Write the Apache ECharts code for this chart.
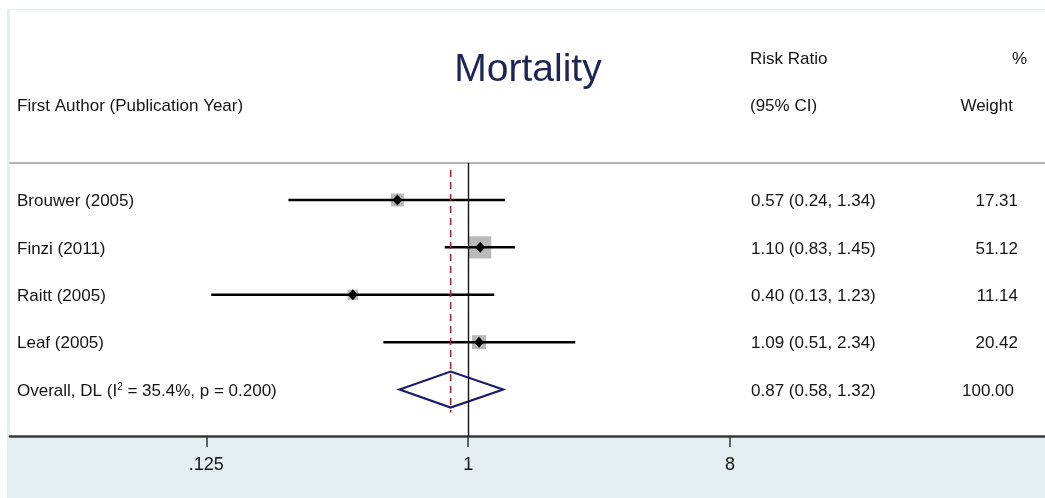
<!DOCTYPE html>
<html>
<head>
<meta charset="utf-8">
<style>
  html, body { margin: 0; padding: 0; background: #ffffff; }
  #chart { width: 1045px; height: 498px; }
</style>
<script src="https://cdn.jsdelivr.net/npm/echarts@6/dist/echarts.min.js"></script>
</head>
<body>
<div id="chart"></div>
<script>
// Study-level results (risk ratios with 95% CI) and random-effects weights
const studies = ['Brouwer (2005)', 'Finzi (2011)', 'Raitt (2005)', 'Leaf (2005)'];
const riskRatio = [0.57, 1.10, 0.40, 1.09];
const ciLower = [0.24, 0.83, 0.13, 0.51];
const ciUpper = [1.34, 1.45, 1.23, 2.34];
const weightPct = [17.31, 51.12, 11.14, 20.42];

// Pooled DerSimonian-Laird estimate: [RR, lower, upper]
const pooled = [0.87, 0.58, 1.32];
const pooledWeight = 100.00;
const heterogeneity = { i2: 35.4, p: 0.200 };

// Axis ticks
const tickValues = [0.125, 1, 8];
const tickLabels = ['.125', '1', '8'];

const FONT = '"Liberation Sans", Arial, sans-serif';
const TEXT = '#141414';

const fmt2 = v => v.toFixed(2);
const ciText = (r, l, u) => fmt2(r) + ' (' + fmt2(l) + ', ' + fmt2(u) + ')';

const studyData = studies.map((s, i) => [riskRatio[i], i, ciLower[i], ciUpper[i], weightPct[i]]);
const pooledRow = studies.length;

const chart = echarts.init(document.getElementById('chart'), null, { renderer: 'canvas' });

function textEl(x, y, text, align, size, color, extra) {
  return {
    type: 'text',
    style: Object.assign({
      x: x, y: y, text: text, fill: color || TEXT,
      font: (size || 17) + 'px ' + FONT,
      textAlign: align || 'left', textVerticalAlign: 'middle'
    }, extra || {})
  };
}

const option = {
  backgroundColor: '#ffffff',
  animation: false,
  graphic: [
    { type: 'rect', z: -100, shape: { x: 7, y: 9, width: 1038, height: 489 }, style: { fill: '#e4edf1' } },
    { type: 'rect', z: -99, shape: { x: 10, y: 10, width: 1035, height: 426 }, style: { fill: '#ffffff' } },
    { type: 'text', z: 10, style: { x: 528, y: 70, text: 'Mortality', fill: '#1c2556', font: '39px ' + FONT, textAlign: 'center', textVerticalAlign: 'middle' } },
    { type: 'text', z: 10, style: { x: 17, y: 106, text: 'First Author (Publication Year)', fill: TEXT, font: '17px ' + FONT, textAlign: 'left', textVerticalAlign: 'middle' } },
    { type: 'text', z: 10, style: { x: 750, y: 59, text: 'Risk Ratio', fill: TEXT, font: '17px ' + FONT, textAlign: 'left', textVerticalAlign: 'middle' } },
    { type: 'text', z: 10, style: { x: 750, y: 106, text: '(95% CI)', fill: TEXT, font: '17px ' + FONT, textAlign: 'left', textVerticalAlign: 'middle' } },
    { type: 'text', z: 10, style: { x: 1027, y: 59, text: '%', fill: TEXT, font: '17px ' + FONT, textAlign: 'right', textVerticalAlign: 'middle' } },
    { type: 'text', z: 10, style: { x: 1013, y: 106, text: 'Weight', fill: TEXT, font: '17px ' + FONT, textAlign: 'right', textVerticalAlign: 'middle' } }
  ],
  grid: { left: 10, right: 0, top: 163, bottom: 62, containLabel: false },
  xAxis: [
    {
      type: 'log', logBase: 2, min: 0.02631, max: 97.48,
      position: 'bottom',
      axisLine: { show: true, onZero: false, lineStyle: { color: '#3a3a3a', width: 2.5 } },
      axisTick: { show: true, length: 11, customValues: tickValues, lineStyle: { color: '#333', width: 1.5 } },
      axisLabel: {
        show: true, customValues: tickValues, margin: 20,
        fontFamily: FONT, fontSize: 18, color: TEXT,
        formatter: v => { const k = tickValues.findIndex(t => Math.abs(t - v) < 1e-9); return k >= 0 ? tickLabels[k] : ''; }
      },
      splitLine: { show: false }, minorTick: { show: false }, minorSplitLine: { show: false }
    },
    {
      type: 'log', logBase: 2, min: 0.02631, max: 97.48,
      position: 'top',
      axisLine: { show: true, onZero: false, lineStyle: { color: '#b4b4b4', width: 2 } },
      axisTick: { show: false }, axisLabel: { show: false }, splitLine: { show: false }
    }
  ],
  yAxis: {
    type: 'value', inverse: true, min: -0.78, max: 4.98,
    show: false, splitLine: { show: false }
  },
  series: [
    {
      // one row per study: weight box, CI whisker, point estimate and the row's text columns
      type: 'custom', name: 'studies', z: 3,
      data: studyData,
      encode: { x: [0, 2, 3], y: 1 },
      renderItem: function (params, api) {
        const i = api.value(1);
        const c = api.coord([api.value(0), i]);
        const l = api.coord([api.value(2), i]);
        const u = api.coord([api.value(3), i]);
        const w = api.value(4);
        const side = Math.sqrt(w) * 3.1;
        const hw = 5, hh = 5.5;
        return {
          type: 'group',
          children: [
            { type: 'rect', shape: { x: c[0] - side / 2, y: c[1] - side / 2, width: side, height: side }, style: { fill: '#b9b9b9' } },
            { type: 'line', shape: { x1: l[0], y1: l[1], x2: u[0], y2: u[1] }, style: { stroke: '#000', lineWidth: 2.5 } },
            { type: 'polygon', shape: { points: [[c[0] - hw, c[1]], [c[0], c[1] - hh], [c[0] + hw, c[1]], [c[0], c[1] + hh]] }, style: { fill: '#000' } },
            textEl(17, c[1] + 1.5, studies[i], 'left'),
            textEl(751, c[1] + 1.5, ciText(api.value(0), api.value(2), api.value(3)), 'left'),
            textEl(1018, c[1] + 1.5, fmt2(w), 'right')
          ]
        };
      }
    },
    {
      // pooled estimate: outlined diamond, dashed reference at the pooled RR, and text columns
      type: 'custom', name: 'pooled', z: 4,
      data: [[pooled[0], pooledRow, pooled[1], pooled[2], pooledWeight]],
      encode: { x: [0, 2, 3], y: 1 },
      renderItem: function (params, api) {
        const row = api.value(1);
        const c = api.coord([api.value(0), row]);
        const l = api.coord([api.value(2), row]);
        const u = api.coord([api.value(3), row]);
        const top = api.coord([api.value(0), 0]);
        const dh = 18;
        return {
          type: 'group',
          children: [
            { type: 'line', shape: { x1: c[0], y1: top[1] - 30, x2: c[0], y2: c[1] + 23 }, style: { stroke: '#962b2b', lineWidth: 1.6, lineDash: [7, 5] } },
            { type: 'polygon', shape: { points: [[l[0], c[1]], [c[0], c[1] - dh], [u[0], c[1]], [c[0], c[1] + dh]] }, style: { fill: 'none', stroke: '#1a1a6b', lineWidth: 2.2 } },
            {
              type: 'text',
              style: {
                x: 17, y: c[1] + 1.5,
                text: 'Overall, DL (I{sup|2} = ' + heterogeneity.i2.toFixed(1) + '%, p = ' + heterogeneity.p.toFixed(3) + ')',
                fill: TEXT, font: '17px ' + FONT, textAlign: 'left', textVerticalAlign: 'middle',
                rich: { sup: { fontSize: 10, fontFamily: FONT, verticalAlign: 'top', padding: [0, 0, 8, 0], fill: TEXT } }
              }
            },
            textEl(751, c[1] + 1.5, ciText(api.value(0), api.value(2), api.value(3)), 'left'),
            textEl(1014, c[1] + 1.5, fmt2(api.value(4)), 'right')
          ]
        };
      }
    },
    {
      // line of no effect at RR = 1
      type: 'line', name: 'null', z: 5, data: [], silent: true,
      markLine: {
        silent: true, symbol: ['none', 'none'], label: { show: false },
        lineStyle: { color: '#111', width: 1.4, type: 'solid' },
        data: [{ xAxis: 1 }]
      }
    }
  ]
};

chart.setOption(option);
</script>
</body>
</html>
